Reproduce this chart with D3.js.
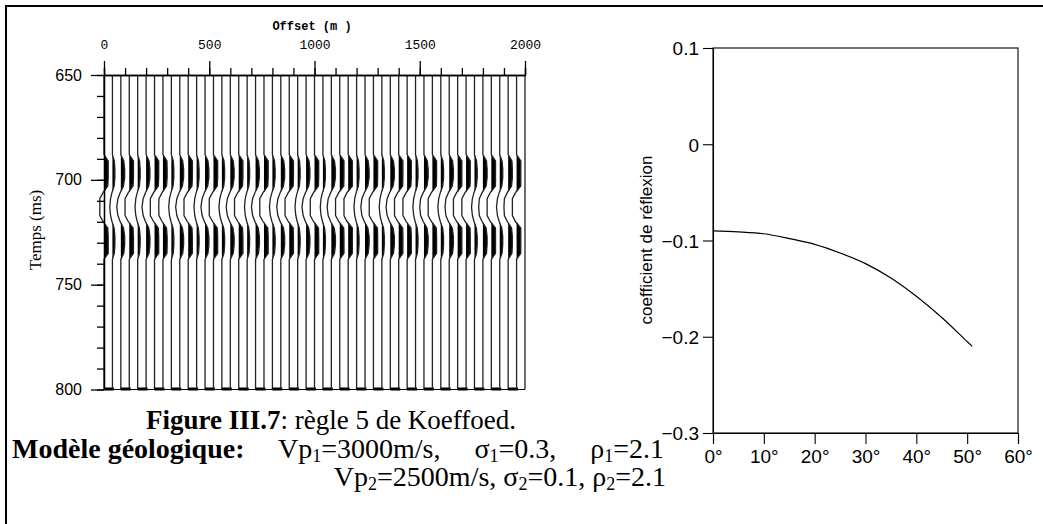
<!DOCTYPE html>
<html>
<head>
<meta charset="utf-8">
<title></title>
<style type="text/css">
	body{
		margin: 0;
		background-color: white;
	}
	svg text{
		fill: black;
	}
	.cap{
		font-family: "Liberation Serif", "Times New Roman", serif;
		font-size: 28px;
	}
</style>
</head>
<body>
<svg id="container" width="1043" height="524">
	<g id="seis"></g>
	<g id="avo"></g>
	<g id="caption"></g>
</svg>

<script src="https://cdn.jsdelivr.net/npm/d3@7/dist/d3.min.js"></script>
<script type="text/javascript">
	// offsets of the traces (m), one every 40 m
	let offsets = [0,40,80,120,160,200,240,280,320,360,400,440,480,520,560,600,640,680,720,760,
		800,840,880,920,960,1000,1040,1080,1120,1160,1200,1240,1280,1320,1360,1400,1440,1480,1520,1560,
		1600,1640,1680,1720,1760,1800,1840,1880,1920,1960,2000]
	// relative amplitude of each trace, read from the section
	let traceAmp = [1.0,0.45,0.7,1.0,0.45,0.7,1.0,0.95,0.45,0.7,1.0,0.45,0.7,1.0,0.5,0.7,1.0,0.45,0.7,1.0,
		0.5,0.7,1.05,0.45,0.7,1.05,0.45,0.75,1.05,1.3,0.45,0.75,1.05,0.45,0.75,1.05,1.0,0.45,0.8,1.05,
		0.5,0.8,1.1,1.05,0.5,0.85,1.1,0.55,0.9,1.15,0]
	// wavelet (time in ms, normalised amplitude, clipped at 1 when plotted)
	let waveT = [650,688,691,695,699,703,706,709,713,717,720,723,727,731,735,738,800]
	let waveA = [0,0,1.0,1.3,1.3,0.9,-0.2,-1.0,-1.4,-1.0,-0.2,0.9,1.3,1.3,1.0,0,0]

	let offTicks = [0,500,1000,1500,2000]
	let timeTicks = [650,700,750,800]

	// reflection coefficient vs incidence angle
	let angles = [0,5,10,15,20,25,30,35,40,45,50,51]
	let coef = [-0.090,-0.091,-0.093,-0.098,-0.104,-0.113,-0.124,-0.139,-0.158,-0.180,-0.205,-0.210]
	let angTicks = [0,10,20,30,40,50,60]
	let coefTicks = [0.1,0,-0.1,-0.2,-0.3]

	let container = d3.select("#container")

	// outer frame (top and left edges only show)
	container.append("path")
		.attr("d", "M6,524V6H1043")
		.attr("fill", "none").attr("stroke", "black").attr("stroke-width", 2)

	// ---------- seismic section ----------
	let seis = d3.select("#seis")
	let xOff = d3.scaleLinear().domain([0, 2000]).range([104, 525])
	let yT = d3.scaleLinear().domain([650, 800]).range([75, 389.5])
	let amp = d3.scaleLinear().domain([0, 1]).range([0, 4.2]).clamp(true)

	function shift(a) {
		return a >= 0 ? amp(a) : -amp(-a)
	}

	offsets.forEach((o, i) => {
		let base = xOff(o)
		let pts = waveT.map((t, k) => ({t: t, a: waveA[k] * traceAmp[i]}))
		let fill = d3.area()
			.y(d => yT(d.t))
			.x0(base)
			.x1(d => base + shift(Math.max(0, d.a)))
		seis.append("path")
			.attr("d", fill(pts))
			.attr("fill", "black")
		let line = d3.line()
			.y(d => yT(d.t))
			.x(d => base + shift(d.a))
		seis.append("path")
			.attr("d", line(pts))
			.attr("fill", "none")
			.attr("stroke", "#222")
			.attr("stroke-width", 1.3)
		// little boxes on the 800 ms line
		if (i % 2 == 0 && i < offsets.length - 1) {
			seis.append("rect")
				.attr("x", base)
				.attr("y", yT(800) - 2)
				.attr("width", xOff(offsets[i + 1]) - base + 1.5)
				.attr("height", 3)
				.attr("fill", "black")
		}
	})
	seis.append("line")
		.attr("x1", xOff(0)).attr("x2", xOff(2000))
		.attr("y1", yT(800)).attr("y2", yT(800))
		.attr("stroke", "black").attr("stroke-width", 1.2)

	// top axis
	seis.append("g").attr("transform", "translate(0," + yT(650) + ")")
		.call(d3.axisTop(xOff).tickValues(d3.range(0, 2001, 100)).tickSize(7).tickFormat(""))
	let xMajor = seis.append("g").attr("transform", "translate(0," + yT(650) + ")")
		.call(d3.axisTop(xOff).tickValues(offTicks).tickSize(14).tickPadding(12).tickSizeOuter(0).tickFormat(d3.format("d")))
	xMajor.selectAll("text")
		.style("font-family", "Liberation Mono, monospace")
		.style("font-size", "13px")

	// left axis
	seis.append("g").attr("transform", "translate(" + xOff(0) + ",0)")
		.call(d3.axisLeft(yT).tickValues(d3.range(650, 801, 10)).tickSize(7).tickFormat("").tickSizeOuter(0))
	let yMajor = seis.append("g").attr("transform", "translate(" + xOff(0) + ",0)")
		.call(d3.axisLeft(yT).tickValues(timeTicks).tickSize(13).tickPadding(9).tickSizeOuter(0))
	yMajor.selectAll("text")
		.style("font-family", "Liberation Sans, Arial, sans-serif")
		.style("font-size", "16px")
	seis.selectAll(".tick line").attr("stroke-width", 1.3)
	seis.selectAll(".domain").attr("stroke-width", 1.3)

	seis.append("text").text("Offset (m )")
		.attr("x", 312).attr("y", 30)
		.attr("text-anchor", "middle")
		.style("font-family", "Liberation Mono, monospace")
		.style("font-size", "12px")
		.style("font-weight", "bold")
	seis.append("text").text("Temps (ms)")
		.attr("text-anchor", "middle")
		.attr("transform", "translate(41,230) rotate(-90)")
		.style("font-family", "Liberation Serif, serif")
		.style("font-size", "17px")

	// ---------- AVO curve ----------
	let avo = d3.select("#avo")
	let xAng = d3.scaleLinear().domain([0, 60]).range([713, 1018])
	let yR = d3.scaleLinear().domain([-0.3, 0.1]).range([433, 48])

	avo.append("rect")
		.attr("x", xAng(0)).attr("y", yR(0.1))
		.attr("width", xAng(60) - xAng(0)).attr("height", yR(-0.3) - yR(0.1))
		.attr("fill", "none").attr("stroke", "black").attr("stroke-width", 1.1)

	avo.append("g").attr("transform", "translate(0," + yR(-0.3) + ")")
		.call(d3.axisBottom(xAng).tickValues(angTicks).tickSize(11).tickPadding(6).tickFormat(d => d + "°"))
	let ay = avo.append("g").attr("transform", "translate(" + xAng(0) + ",0)")
		.call(d3.axisLeft(yR).tickValues(coefTicks).tickSize(10).tickPadding(4).tickFormat(d => d3.format("")(+d.toFixed(1))))
	avo.selectAll("text")
		.style("font-family", "Liberation Sans, Arial, sans-serif")
		.style("font-size", "19px")
	avo.selectAll(".domain").attr("stroke-width", 1.1)
	avo.selectAll(".tick line").attr("stroke-width", 1.1)
	ay.selectAll(".tick text").attr("dy", "0.36em")

	avo.append("path")
		.datum(angles.map((a, i) => [a, coef[i]]))
		.attr("d", d3.line().x(d => xAng(d[0])).y(d => yR(d[1])).curve(d3.curveMonotoneX))
		.attr("fill", "none")
		.attr("stroke", "black")
		.attr("stroke-width", 1.2)

	avo.append("text").text("coefficient de réflexion")
		.attr("text-anchor", "middle")
		.attr("transform", "translate(652,240) rotate(-90)")
		.style("font-family", "Liberation Sans, Arial, sans-serif")
		.style("font-size", "17px")

	// ---------- caption ----------
	let cap = d3.select("#caption")
	let l1 = cap.append("text").attr("class", "cap").attr("x", 331).attr("y", 429)
		.attr("text-anchor", "middle").style("font-size", "27px")
	l1.append("tspan").attr("font-weight", "bold").text("Figure III.7")
	l1.append("tspan").text(": règle 5 de Koeffoed.")

	// parameter text with a subscript index
	function param(t, a, s, b) {
		t.append("tspan").attr("class", "gap").text(a)
		t.append("tspan").attr("font-size", "18px").attr("dy", 4).text(s)
		t.append("tspan").attr("dy", -4).text(b)
	}

	let l2 = cap.append("text").attr("class", "cap").attr("x", 12).attr("y", 458)
	l2.append("tspan").attr("font-weight", "bold").text("Modèle géologique:")
	param(l2, " Vp", "1", "=3000m/s,")
	param(l2, " σ", "1", "=0.3,")
	param(l2, " ρ", "1", "=2.1")
	// justified line: the three gaps share the slack so it ends near x = 664
	let slack = (652 - l2.node().getComputedTextLength()) / 3
	l2.selectAll(".gap").attr("dx", Math.max(0, slack))

	let l3 = cap.append("text").attr("class", "cap").attr("x", 666).attr("y", 486).attr("text-anchor", "end")
	param(l3, "Vp", "2", "=2500m/s,")
	param(l3, " σ", "2", "=0.1,")
	param(l3, " ρ", "2", "=2.1")
</script>
</body>
</html>
